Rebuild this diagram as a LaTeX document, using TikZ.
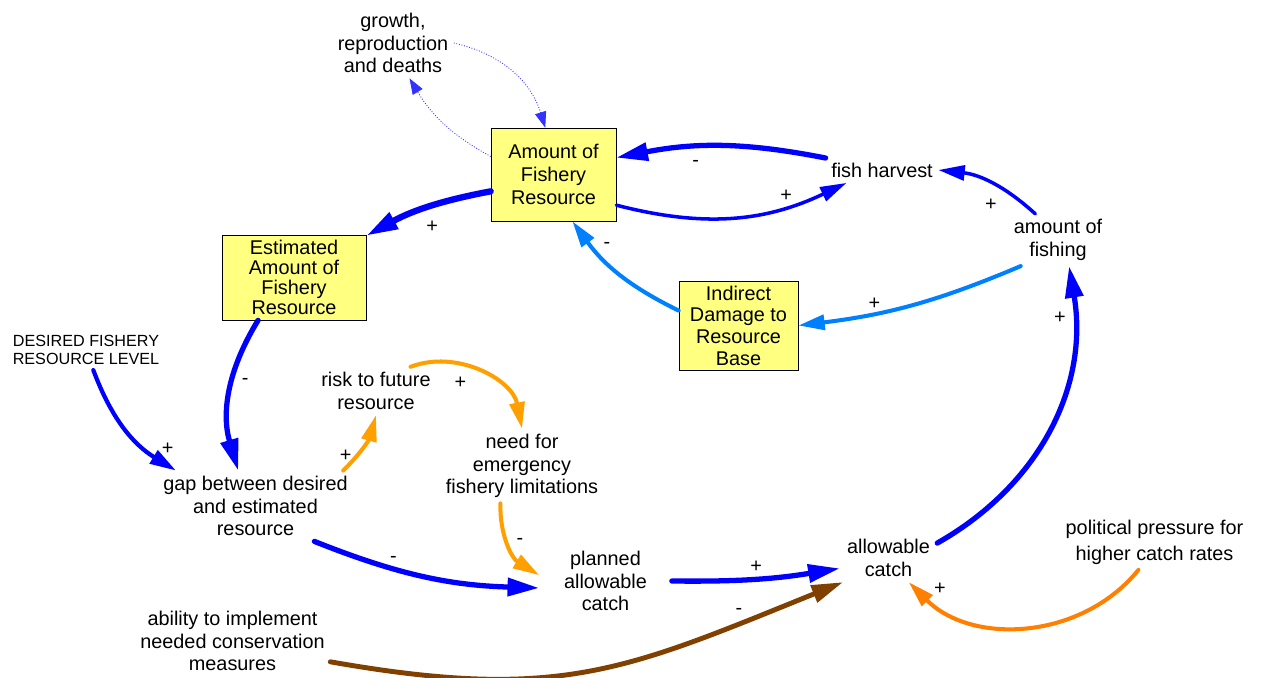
\documentclass[tikz,border=0pt]{standalone}
\usepackage{fontspec}
\setmainfont{Liberation Sans}
\usepackage{tikz}
\usetikzlibrary{arrows.meta,positioning}
\definecolor{linkblue}{RGB}{0,0,255}
\definecolor{linksky}{RGB}{0,128,255}
\definecolor{linkamber}{RGB}{255,160,0}
\definecolor{linkorange}{RGB}{255,128,0}
\definecolor{linkbrown}{RGB}{128,64,0}
\definecolor{stockyellow}{RGB}{255,255,128}
\tikzset{
  stock/.style={draw=black,fill=stockyellow,align=center,inner sep=2pt},
  var/.style={align=center,inner sep=3pt},
  sign/.style={inner sep=1pt,text=black},
  biglink/.style={line width=3pt,line cap=round,-{Triangle[length=18pt,width=10pt]}},
  midlink/.style={line width=2pt,line cap=round,-{Triangle[length=15pt,width=8.5pt]}},
  flowlink/.style={line width=0.5pt,densely dotted,linkblue!80,-{Triangle[length=9pt,width=6.5pt]}},
}

\begin{document}
\begin{tikzpicture}[
  x=0.02cm,y=0.02cm,
  every node/.style={font=\fontsize{11.3}{12.8}\selectfont}
]
\useasboundingbox (0,0) rectangle (1271,677);

\node[stock,minimum width=2.5cm,minimum height=1.86cm,font=\fontsize{11.3}{13}\selectfont] (afr) at (553.5,502.5) {Amount of\\Fishery\\Resource};
\node[stock,minimum width=2.88cm,minimum height=1.7cm,font=\fontsize{11.3}{11.4}\selectfont] (eafr) at (294,399.5) {Estimated\\Amount of\\Fishery\\Resource};
\node[stock,minimum width=2.38cm,minimum height=1.78cm,font=\fontsize{11.3}{12.3}\selectfont] (idrb) at (738.5,351.5) {Indirect\\Damage to\\Resource\\Base};

\node[var] (growth) at (393,634) {growth,\\reproduction\\and deaths};
\node[var] (fh) at (882,507) {fish harvest};
\node[var] (aof) at (1058,437) {amount of\\fishing};
\node[var,font=\fontsize{9.2}{10}\selectfont] (desired) at (86,327) {DESIRED FISHERY\\RESOURCE LEVEL};
\node[var] (gap) at (255.5,171) {gap between desired\\and estimated\\resource};
\node[var] (risk) at (376,286) {risk to future\\resource};
\node[var] (need) at (522,211) {need for\\emergency\\fishery limitations};
\node[var,inner xsep=14pt] (planned) at (605.5,96) {planned\\allowable\\catch};
\node[var,inner xsep=4pt] (ac) at (888.5,119) {allowable\\catch};
\node[var,font=\fontsize{11.3}{14.8}\selectfont] (pol) at (1154.5,135) {political pressure for\\higher catch rates};
\node[var] (ability) at (232.5,36) {ability to implement\\needed conservation\\measures};

\path
(afr.164) edge[flowlink,bend left=15] (growth.-65)
(growth.east) edge[flowlink,bend left=30] (afr.100);

\path[linkblue]
(fh.168) edge[biglink,bend right=11] node[sign,pos=.63,below=5pt] {-} (afr.15)
(afr.-26) edge[midlink,bend right=20] node[sign,pos=.74,above=1pt] {+} (fh.200)
(afr.195) edge[biglink,line width=3.6pt,bend right=9] node[sign,pos=.45,below=6pt] {+} (eafr.30)
(aof.131) edge[midlink,bend right=18] node[sign,pos=.5,below=7pt] {+} (fh.east)
(eafr.230) edge[biglink,bend right=24] node[sign,pos=.42,right=3pt] {-} (gap.116)
(desired.-70) edge[midlink,line width=2.4pt,bend right=19] node[sign,pos=.85,above right=0pt] {+} (gap.156)
(gap.-31) edge[biglink,bend right=10] node[sign,pos=.35,above=1pt] {-} (planned.186)
(planned.east) edge[biglink,bend right=5] node[sign,pos=.5,above=1pt] {+} (ac.192)
(ac.17) edge[biglink,bend right=35] node[sign,pos=.85,left=2pt] {+} (aof.-67);

\path[linksky]
(aof.215) edge[midlink,line width=2.3pt,bend left=8] node[sign,pos=.68,above=0pt] {+} (idrb.east)
(idrb.166) edge[midlink,line width=2.3pt,bend left=14] node[sign,pos=.8,right=5pt] {-} (afr.-68);

\path[linkamber]
(gap.22) edge[midlink,line width=2.3pt,bend right=15] node[sign,pos=.3,left=1pt] {+} (risk.south)
(risk.35) edge[midlink,line width=2.3pt,bend left=50] node[sign,pos=.35,below=5pt] {+} (need.north)
(need.240) edge[midlink,line width=2.3pt,bend right=30] node[sign,pos=.45,right=3pt] {-} (planned.175);

\path
(ability.-12) edge[biglink,linkbrown,line width=2.8pt,out=-10,in=202,looseness=1.15] node[sign,pos=.82,above=3pt] {-} (ac.208)
(pol.240) edge[midlink,linkorange,line width=2.3pt,bend left=48] node[sign,pos=.9,above right=1pt] {+} (ac.-50);

\end{tikzpicture}
\end{document}
